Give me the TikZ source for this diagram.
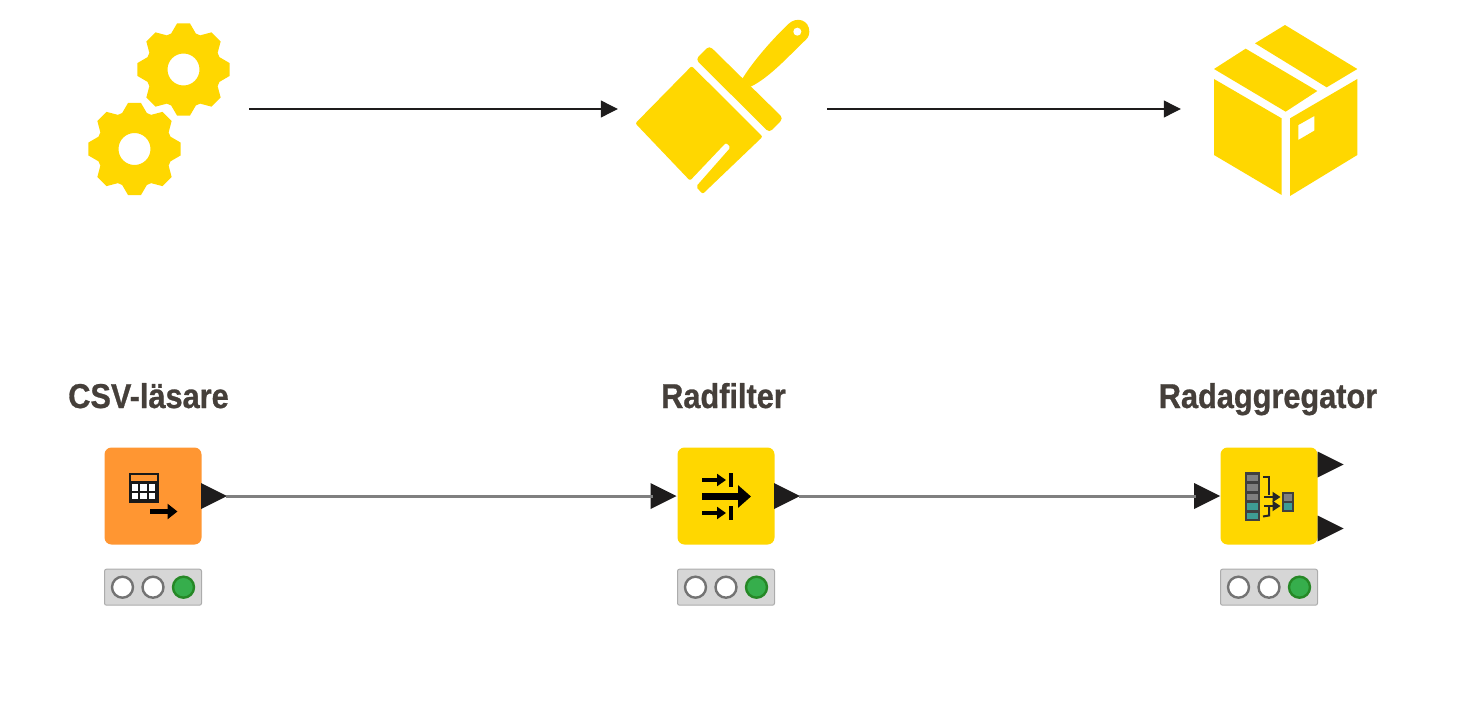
\documentclass[tikz,border=0pt]{standalone}
\usepackage{fontspec}
\newfontfamily\labelfont[FakeStretch=0.89, FakeBold=0.8]{Liberation Sans Bold}
\usetikzlibrary{positioning, arrows.meta, calc}
\definecolor{iconyellow}{HTML}{FFD700}
\definecolor{nodeorange}{HTML}{FF9632}
\definecolor{labelgray}{HTML}{453F3A}
\definecolor{portblack}{HTML}{1E1C1C}
\definecolor{lampgreen}{HTML}{36AE4C}
\definecolor{celltile}{HTML}{3E9C94}

\begin{document}
\begin{tikzpicture}[
    x=1pt, y=-1pt,
    icon/.style={minimum height=180pt, inner sep=0pt},
    flow/.style={draw=portblack, line width=1.1pt, -{Triangle[length=17pt, width=17pt]}},
    wire/.style={draw=black!50, line width=3pt},
    knode/.style={rounded corners=7pt, minimum size=97pt, inner sep=0pt},
    status/.style={draw=gray!65, fill=gray!32, line width=1pt, rounded corners=2pt,
        minimum width=97pt, minimum height=36pt, inner sep=0pt},
    lamp/.style={circle, draw=gray!90!black, fill=white, line width=2.4pt, minimum size=21pt, inner sep=0pt},
    oklamp/.style={lamp, draw=green!45!black!85, fill=lampgreen},
    title/.style={font=\labelfont\fontsize{34.5pt}{36pt}\selectfont, text=labelgray, inner sep=0pt, anchor=base},
    port/.pic={
        \fill[portblack] (0,-13) -- (26,0) -- (0,13) -- cycle;
        \coordinate (-tip) at (25,0);
        \coordinate (-base) at (2,0);
    },
    gear/.pic={
        \fill[iconyellow, even odd rule] (-19:38)
            \foreach \a in {0,45,...,315} {
                -- (\a-19:38) -- (\a-8:46.5) -- (\a+8:46.5) -- (\a+19:38)
            } -- cycle (0,0) circle (16);
    },
]
\useasboundingbox (0,0) rectangle (1484,720);

% icons on top
\node[icon, minimum width=182pt] (gears) at (158,109) {};
\node[icon, minimum width=209pt] (brush) at (722.5,109) {};
\node[icon, minimum width=210pt] (carton) at (1286,109) {};

\pic at (183.5,69.5) {gear};
\pic at (134.5,149) {gear};

\begin{scope}[shift={(620,10)}, scale=1/3]
    \fill[iconyellow, rounded corners=2pt] (215,168) -- (428,380) -- (248,552) -- (228,530)
        -- (332,412) -- (318,398) -- (210,512) -- (46,340) -- cycle;
    \fill[iconyellow, rounded corners=4pt] (227,148) -- (268,107) -- (490,325) -- (448,368) -- cycle;
    \fill[iconyellow] (366,208) .. controls (395,160) and (450,95) .. (505,42)
        .. controls (530,18) and (568,30) .. (568,65)
        .. controls (568,80) and (560,88) .. (548,98)
        .. controls (505,140) and (445,205) .. (392,230) -- cycle;
    \fill[white] (532,65) circle (12);
\end{scope}

\begin{scope}[shift={(1200,10)}, scale=1/3]
    \fill[iconyellow] (42,177) -- (137,116) -- (352,243) -- (257,305) -- cycle;
    \fill[iconyellow] (165,100) -- (255,45) -- (472,177) -- (380,232) -- cycle;
    \fill[iconyellow] (42,207) -- (245,325) -- (245,555) -- (42,435) -- cycle;
    \fill[iconyellow, even odd rule] (270,325) -- (472,207) -- (472,435) -- (270,558) -- cycle
        (295,345) -- (343,318) -- (343,362) -- (295,390) -- cycle;
\end{scope}

\draw[flow] (gears) -- (brush);
\draw[flow] (brush) -- (carton);

% workflow
\node[knode, fill=nodeorange] (reader) at (153,496) {};
\node[knode, fill=iconyellow] (filter) at (726,496) {};
\node[knode, fill=iconyellow] (aggr) at (1269,496) {};

\node[title] (readertitle) at (148.5,408) {CSV-läsare};
\node[title] (filtertitle) at (723.5,408) {Radfilter};
\node[title] (aggrtitle) at (1268,408) {Radaggregator};

\foreach \n in {reader, filter, aggr} {
    \node[status, below=24pt of \n] (\n status) {};
    \node[lamp] at ($(\n status)+(-30.5,0)$) (\n lampa) {};
    \node[lamp] at (\n status) (\n lampb) {};
    \node[oklamp] at ($(\n status)+(30.5,0)$) (\n lampc) {};
}

\pic (readerout) at (201,496) {port};
\pic (filterin) at (650.5,496) {port};
\pic (filterout) at (774,496) {port};
\pic (aggrin) at (1194,496) {port};
\pic (aggrouta) at (1317.5,464.5) {port};
\pic (aggroutb) at (1317.5,528.5) {port};

\draw[wire] (readerout-tip) -- (filterin-base);
\draw[wire] (filterout-tip) -- (aggrin-base);

% reader glyph
\fill[black!90] (128.5,472.5) rectangle (159,502.5);
\fill[nodeorange] (131,475) rectangle (156.5,481);
\foreach \i in {0,1,2} {
    \foreach \j in {0,1} {
        \fill[white] (131.5+\i*8.6,484+\j*8.6) rectangle ++(6.6,6.6);
    }
}
\draw[black, line width=5pt, -{Triangle[length=10pt, width=15pt]}] (150,511.5) -- (177.5,511.5);

% filter glyph
\draw[black, line width=6.5pt, -{Triangle[length=13pt, width=22pt]}] (702,496.5) -- (751,496.5);
\foreach \yy in {480,513} {
    \draw[black, line width=3.4pt, -{Triangle[length=9pt, width=12pt]}] (702,\yy) -- (726,\yy);
    \draw[black, line width=4pt] (730.5,\yy-7) -- (730.5,\yy+7);
}

% aggregator glyph
\fill[black!75] (1245,472) rectangle (1260,520.5);
\foreach \yy/\cc in {474.5/gray, 484/gray, 493.5/gray, 503/celltile, 512.5/celltile} {
    \fill[\cc] (1247,\yy) rectangle ++(11,6.5);
}
\fill[black!75] (1281.5,491.5) rectangle (1293.5,512);
\fill[gray] (1283.5,494) rectangle (1291.5,500.5);
\fill[celltile] (1283.5,503) rectangle (1291.5,509.5);
\draw[black!85, line width=2pt] (1263,476.5) -- (1269,476.5) -- (1269,495);
\draw[black!85, line width=2pt] (1263,516.5) -- (1269,515.5) -- (1269,506);
\draw[black!85, line width=2pt, -{Triangle[length=8pt, width=10pt]}] (1264,497) -- (1280.5,497);
\draw[black!85, line width=2pt, -{Triangle[length=8pt, width=10pt]}] (1264,506) -- (1280.5,506);

\end{tikzpicture}
\end{document}
